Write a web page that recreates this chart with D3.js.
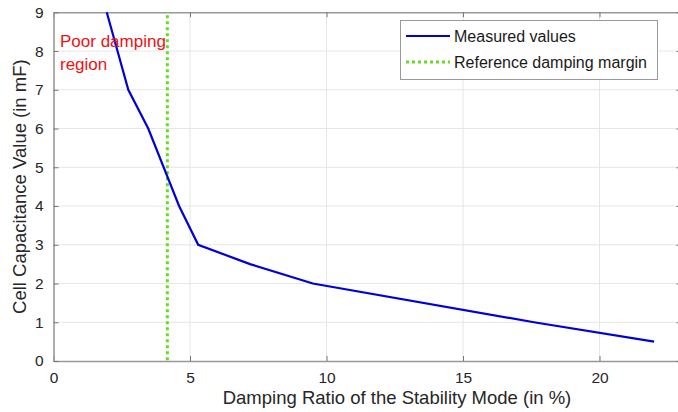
<!DOCTYPE html>
<html>
<head>
<meta charset="utf-8">
<script src="https://d3js.org/d3.v7.min.js"></script>
<style>
  body { margin: 0; background: #fff; }
  text { font-family: "Liberation Sans", Arial, sans-serif; }
</style>
</head>
<body>
<script>
// data
const dampingRatio = [1.95, 2.74, 3.47, 4.6, 5.3, 7.2, 9.5, 17.6, 22];
const capacitance = [9, 7, 6, 4, 3, 2.5, 2, 1, 0.5];
const referenceMargin = 4.17;
const xTicks = [0, 5, 10, 15, 20];
const yTicks = [0, 1, 2, 3, 4, 5, 6, 7, 8, 9];

const W = 678, H = 412;
const mLeft = 53.5, mTop = 12.3, mBottom = 361;

const svg = d3.select('body').append('svg')
  .attr('width', W).attr('height', H);

const x = d3.scaleLinear().domain([0, 23]).range([mLeft, mLeft + 23 * 27.3]);
const y = d3.scaleLinear().domain([0, 9]).range([mBottom, mTop]);

// grid
svg.append('g').selectAll('line').data(xTicks.slice(1)).join('line')
  .attr('x1', d => x(d)).attr('x2', d => x(d))
  .attr('y1', mTop).attr('y2', mBottom)
  .attr('stroke', '#e6e6e6').attr('stroke-width', 1);
svg.append('g').selectAll('line').data(yTicks.slice(1, -1)).join('line')
  .attr('x1', mLeft).attr('x2', x(23))
  .attr('y1', d => y(d)).attr('y2', d => y(d))
  .attr('stroke', '#e6e6e6').attr('stroke-width', 1);

// axes (matlab style, ticks inward)
const axColor = '#999';
const xAxis = svg.append('g').attr('transform', `translate(0,${mBottom})`)
  .call(d3.axisBottom(x).tickValues(xTicks).tickSizeInner(-5).tickSizeOuter(0).tickPadding(11));
const xTop = svg.append('g').attr('transform', `translate(0,${mTop})`)
  .call(d3.axisTop(x).tickValues(xTicks).tickSizeInner(-5).tickSizeOuter(0).tickFormat(''));
const yAxis = svg.append('g').attr('transform', `translate(${mLeft},0)`)
  .call(d3.axisLeft(y).tickValues(yTicks).tickSizeInner(-5).tickSizeOuter(0).tickPadding(10));
const yRight = svg.append('g').attr('transform', `translate(${x(23)},0)`)
  .call(d3.axisRight(y).tickValues(yTicks).tickSizeInner(-5).tickSizeOuter(0).tickFormat(''));

[xAxis, xTop, yAxis, yRight].forEach(g => {
  g.select('.domain').attr('stroke', axColor).attr('stroke-width', 1.6);
  g.selectAll('.tick line').attr('stroke', '#777');
  g.selectAll('.tick text').attr('fill', '#262626').style('font-size', '15.5px')
    .style('font-family', '"Liberation Sans", Arial, sans-serif');
});

// reference damping margin
svg.append('line')
  .attr('x1', x(referenceMargin)).attr('x2', x(referenceMargin))
  .attr('y1', mTop + 3).attr('y2', mBottom)
  .attr('stroke', '#66dd22').attr('stroke-width', 3)
  .attr('stroke-dasharray', '3,3');

// measured values
const line = d3.line().x(d => x(d)).y((d, i) => y(capacitance[i]));
svg.append('path')
  .attr('d', line(dampingRatio))
  .attr('fill', 'none').attr('stroke', '#0000dd').attr('stroke-width', 2.2);

// annotation
svg.append('text').attr('x', 60).attr('y', 47).attr('fill', '#ee1111')
  .style('font-size', '17px').text('Poor damping');
svg.append('text').attr('x', 60).attr('y', 70).attr('fill', '#ee1111')
  .style('font-size', '17px').text('region');

// legend
const lg = svg.append('g');
lg.append('rect').attr('x', 400.5).attr('y', 20.5).attr('width', 257).attr('height', 59)
  .attr('fill', '#fff').attr('stroke', '#999').attr('stroke-width', 1);
lg.append('line').attr('x1', 406).attr('x2', 450).attr('y1', 36).attr('y2', 36)
  .attr('stroke', '#0000dd').attr('stroke-width', 2);
lg.append('line').attr('x1', 406).attr('x2', 450).attr('y1', 62).attr('y2', 62)
  .attr('stroke', '#66dd22').attr('stroke-width', 3).attr('stroke-dasharray', '3,3');
lg.append('text').attr('x', 454).attr('y', 42).attr('fill', '#1a1a1a')
  .style('font-size', '16px').text('Measured values');
lg.append('text').attr('x', 454).attr('y', 68).attr('fill', '#1a1a1a')
  .style('font-size', '16px').text('Reference damping margin');

// axis labels
svg.append('text').attr('x', 397).attr('y', 404).attr('text-anchor', 'middle')
  .attr('fill', '#262626').style('font-size', '18.5px')
  .text('Damping Ratio of the Stability Mode (in %)');
svg.append('text').attr('transform', `translate(26,${(mTop + mBottom) / 2}) rotate(-90)`)
  .attr('text-anchor', 'middle').attr('fill', '#262626').style('font-size', '18.5px')
  .text('Cell Capacitance Value (in mF)');
</script>
</body>
</html>
